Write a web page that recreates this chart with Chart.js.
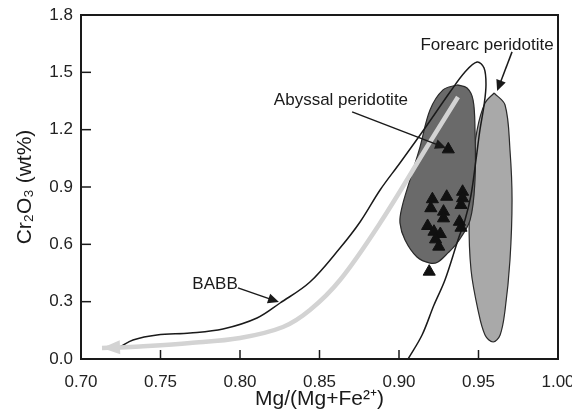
<!DOCTYPE html>
<html><head><meta charset="utf-8">
<script src="https://cdn.jsdelivr.net/npm/chart.js@4"></script>
<style>html,body{margin:0;padding:0;background:#fff}</style>
</head><body>
<canvas id="c" width="572" height="412"></canvas>
<script>
// ---- tick labels
const xTickValues = [0.70, 0.75, 0.80, 0.85, 0.90, 0.95, 1.00];
const yTickValues = [0.0, 0.3, 0.6, 0.9, 1.2, 1.5, 1.8];

// ---- Abyssal peridotite field (closed outline)
const abyssalX = [0.9365,0.9277,0.9195,0.9132,0.9069,0.9019,0.9006,0.9038,0.9113,0.9195,0.9245,0.9308,0.9365,0.9447,0.9478,0.9478,0.9466,0.9428,0.9365];
const abyssalY = [1.434,1.408,1.303,1.109,0.937,0.795,0.712,0.623,0.534,0.502,0.508,0.555,0.607,0.727,0.937,1.198,1.355,1.418,1.434];

// ---- Forearc peridotite field (closed outline)
const forearcX = [0.9598,0.9667,0.9698,0.9711,0.9698,0.9667,0.9636,0.9592,0.9541,0.9497,0.9453,0.9441,0.9460,0.9491,0.9541,0.9598];
const forearcY = [1.392,1.329,1.094,0.832,0.518,0.256,0.126,0.089,0.126,0.256,0.466,0.727,0.989,1.198,1.340,1.392];

// ---- BABB curve
const babbX = [0.7245,0.7327,0.7478,0.7686,0.7893,0.8107,0.8252,0.8440,0.8629,0.8755,0.8881,0.9006,0.9164,0.9321,0.9415,0.9491,0.9535,0.9547,0.9535,0.9509,0.9484,0.9453,0.9415,0.9371,0.9289,0.9220,0.9145,0.9057];
const babbY = [0.0628,0.0994,0.1256,0.1361,0.1570,0.2145,0.2930,0.4029,0.5808,0.7169,0.8843,1.0256,1.2087,1.3971,1.5018,1.5541,1.5227,1.4337,1.3291,1.1983,1.0413,0.8581,0.7273,0.6227,0.4134,0.2826,0.1256,0.0];

// ---- Grey trend arrow (first point = arrow tip)
const trendX = [0.7132,0.7245,0.7371,0.7686,0.8000,0.8270,0.8440,0.8629,0.8881,0.9195,0.9371];
const trendY = [0.0576,0.0602,0.0654,0.0837,0.1099,0.1674,0.2564,0.4134,0.7116,1.1355,1.3709];

// ---- Samples (black triangles)
const sampleX = [0.931,0.921,0.930,0.940,0.940,0.939,0.920,0.928,0.928,0.938,0.939,0.918,0.922,0.926,0.923,0.925,0.919];
const sampleY = [1.097,0.836,0.849,0.875,0.841,0.806,0.789,0.771,0.736,0.718,0.687,0.696,0.666,0.654,0.626,0.588,0.457];

// ---- Annotation labels and arrows
const labelText = ["Abyssal peridotite", "Forearc peridotite", "BABB"];
const labelX = [0.8635, 0.9554, 0.7843];
const labelY = [1.355, 1.643, 0.392];
const arrowFromX = [0.8705, 0.9711, 0.7987];
const arrowFromY = [1.293, 1.607, 0.372];
const arrowToX = [0.9296, 0.9617, 0.8245];
const arrowToY = [1.104, 1.402, 0.298];

const pts = (xs, ys) => xs.map((x, i) => ({x, y: ys[i]}));
const FONT = "'Liberation Sans', Arial, Helvetica, sans-serif";

function arrowHead(ctx, tx, ty, fx, fy, len, half, color) {
  const ang = Math.atan2(ty - fy, tx - fx);
  ctx.fillStyle = color;
  ctx.beginPath();
  ctx.moveTo(tx, ty);
  ctx.lineTo(tx - len * Math.cos(ang) + half * Math.sin(ang), ty - len * Math.sin(ang) - half * Math.cos(ang));
  ctx.lineTo(tx - len * Math.cos(ang) - half * Math.sin(ang), ty - len * Math.sin(ang) + half * Math.cos(ang));
  ctx.closePath();
  ctx.fill();
}

const overlay = {
  id: 'overlay',
  afterDatasetsDraw(chart) {
    const {ctx, chartArea: a, scales: {x, y}} = chart;
    ctx.save();
    // grey arrow head
    const tx = x.getPixelForValue(trendX[0]), ty = y.getPixelForValue(trendY[0]);
    const fx = x.getPixelForValue(trendX[2]), fy = y.getPixelForValue(trendY[2]);
    arrowHead(ctx, tx, ty, fx, fy, 18, 7, '#d3d3d3');
    // annotation arrows
    ctx.strokeStyle = '#1a1a1a'; ctx.lineWidth = 1.5;
    for (let i = 0; i < arrowFromX.length; i++) {
      const x0 = x.getPixelForValue(arrowFromX[i]), y0 = y.getPixelForValue(arrowFromY[i]);
      const x1 = x.getPixelForValue(arrowToX[i]), y1 = y.getPixelForValue(arrowToY[i]);
      const ang = Math.atan2(y1 - y0, x1 - x0);
      ctx.beginPath(); ctx.moveTo(x0, y0); ctx.lineTo(x1 - 6 * Math.cos(ang), y1 - 6 * Math.sin(ang)); ctx.stroke();
      arrowHead(ctx, x1, y1, x0, y0, 11, 5, '#1a1a1a');
    }
    // labels
    ctx.fillStyle = '#1a1a1a';
    ctx.font = '17px ' + FONT;
    ctx.textAlign = 'center'; ctx.textBaseline = 'middle';
    for (let i = 0; i < labelText.length; i++) {
      ctx.fillText(labelText[i], x.getPixelForValue(labelX[i]), y.getPixelForValue(labelY[i]));
    }
    // frame
    ctx.strokeStyle = '#1a1a1a'; ctx.lineWidth = 2;
    ctx.strokeRect(a.left, a.top, a.right - a.left, a.bottom - a.top);
    // inward tick marks
    ctx.lineWidth = 1.5;
    y.ticks.forEach(t => {
      const py = y.getPixelForValue(t.value);
      ctx.beginPath(); ctx.moveTo(a.left, py); ctx.lineTo(a.left + 10, py); ctx.stroke();
    });
    x.ticks.forEach(t => {
      const px = x.getPixelForValue(t.value);
      ctx.beginPath(); ctx.moveTo(px, a.bottom); ctx.lineTo(px, a.bottom - 9); ctx.stroke();
    });
    ctx.restore();
  }
};

new Chart(document.getElementById('c'), {
  type: 'line',
  data: {
    datasets: [
      { label: 'Samples', data: pts(sampleX, sampleY), showLine: false, pointStyle: 'triangle',
        pointRadius: 7, pointBackgroundColor: '#111', pointBorderColor: '#111', pointBorderWidth: 1, order: 0 },
      { label: 'Trend', data: pts(trendX, trendY), borderColor: '#d3d3d3', borderWidth: 4.5, pointRadius: 0,
        tension: 0.35, fill: false, order: 1 },
      { label: 'BABB', data: pts(babbX, babbY), borderColor: '#1a1a1a', borderWidth: 1.5, pointRadius: 0,
        tension: 0.35, fill: false, order: 2 },
      { label: 'Abyssal peridotite', data: pts(abyssalX, abyssalY), borderColor: '#2a2a2a', borderWidth: 1.2,
        backgroundColor: '#6a6a6a', pointRadius: 0, tension: 0.35, fill: 'shape', order: 3 },
      { label: 'Forearc peridotite', data: pts(forearcX, forearcY), borderColor: '#2a2a2a', borderWidth: 1.2,
        backgroundColor: '#a9a9a9', pointRadius: 0, tension: 0.35, fill: 'shape', order: 4 }
    ]
  },
  options: {
    responsive: false,
    animation: false,
    layout: { padding: { left: 0, right: 14, top: 15, bottom: 0 } },
    plugins: { legend: { display: false }, tooltip: { enabled: false } },
    scales: {
      x: {
        type: 'linear', min: 0.70, max: 1.00,
        afterBuildTicks: s => { s.ticks = xTickValues.map(v => ({value: v})); },
        afterFit: s => { s.height = 53; s.paddingLeft = 0; s.paddingRight = 0; },
        grid: { display: false, drawTicks: false },
        border: { display: false },
        ticks: { padding: 13, color: '#222', font: { size: 17, family: FONT }, maxRotation: 0,
                 autoSkip: false, callback: v => v.toFixed(2) },
        title: { display: true, text: 'Mg/(Mg+Fe²⁺)', color: '#1a1a1a',
                 font: { size: 21, family: FONT }, padding: { top: 0, bottom: 0 } }
      },
      y: {
        type: 'linear', min: 0, max: 1.8,
        afterBuildTicks: s => { s.ticks = yTickValues.map(v => ({value: v})); },
        afterFit: s => { s.width = 81; s.paddingTop = 0; s.paddingBottom = 0; },
        grid: { display: false, drawTicks: false },
        border: { display: false },
        ticks: { padding: 8, color: '#222', font: { size: 17, family: FONT },
                 autoSkip: false, callback: v => v.toFixed(1) },
        title: { display: true, text: 'Cr₂O₃ (wt%)', color: '#1a1a1a',
                 font: { size: 21, family: FONT }, padding: { top: 13, bottom: 0 } }
      }
    }
  },
  plugins: [overlay]
});
</script>
</body></html>
